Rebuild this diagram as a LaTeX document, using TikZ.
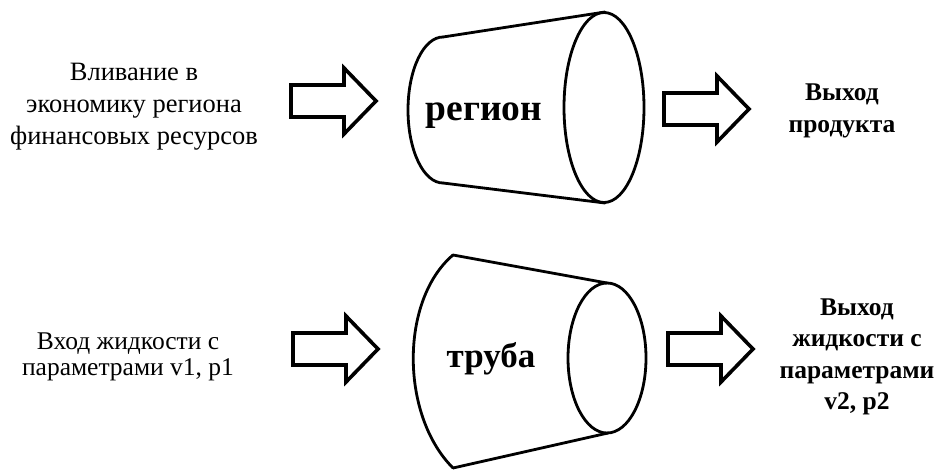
\documentclass[tikz,border=0pt]{standalone}
\usepackage{fontspec}
\setmainfont{Liberation Serif}
\begin{document}
\begin{tikzpicture}[x=1pt,y=-1pt]
\tikzset{
  conetube/.style={line width=2.8pt, line cap=round},
  blockarrow/.style={line width=3.6pt, line join=miter},
  lbl/.style={align=center, inner sep=0pt, font=\fontsize{26.5}{32}\selectfont},
  lblb/.style={align=center, inner sep=0pt, font=\fontsize{25.5}{26.5}\selectfont},
  blbl/.style={align=center, inner sep=0pt, font=\fontsize{25.5}{31.5}\selectfont\bfseries},
  bigword/.style={inner sep=0pt, anchor=base, font=\fontsize{37.5}{38}\selectfont\bfseries},
  pics/barrow/.style={code={
    \draw[blockarrow] (0,-16) -- (53,-16) -- (53,-33) -- (85,0) -- (53,33) -- (53,16) -- (0,16) -- cycle;
  }}
}
\useasboundingbox (0,0) rectangle (941,471);

% top cone
\draw[conetube] (443,37) -- (605,12);
\draw[conetube] (443,183) -- (605,203);
\draw[conetube] (443,37) .. controls (423.5,37) and (408,69.7) .. (408,110)
                         .. controls (408,150.3) and (423.5,183) .. (443,183);
\draw[conetube] (604,107.5) ellipse[x radius=40, y radius=95];

% bottom cone
\draw[conetube] (453,255) -- (607,283);
\draw[conetube] (453,468) -- (608,433);
\draw[conetube] (453,255) .. controls (400,300) and (400,415) .. (453,468);
\draw[conetube] (607,358) ellipse[x radius=39, y radius=75];

% block arrows
\pic at (291,101) {barrow};
\pic at (664,109) {barrow};
\pic at (293,349) {barrow};
\pic at (668,349) {barrow};

% texts
\node[lbl] (in1) at (134,107) {Вливание в\\экономику региона\\финансовых ресурсов};
\node[bigword] (reg) at (484,120) {регион};
\node[blbl] (out1) at (842,111) {Выход\\продукта};

\node[lblb] (in2) at (128,357) {Вход жидкости с\\параметрами v1, p1};
\node[bigword, font=\fontsize{35}{36}\selectfont\bfseries] (tube) at (491,367) {труба};
\node[blbl] (out2) at (857,357) {Выход\\жидкости с\\параметрами\\v2, p2};
\end{tikzpicture}
\end{document}
